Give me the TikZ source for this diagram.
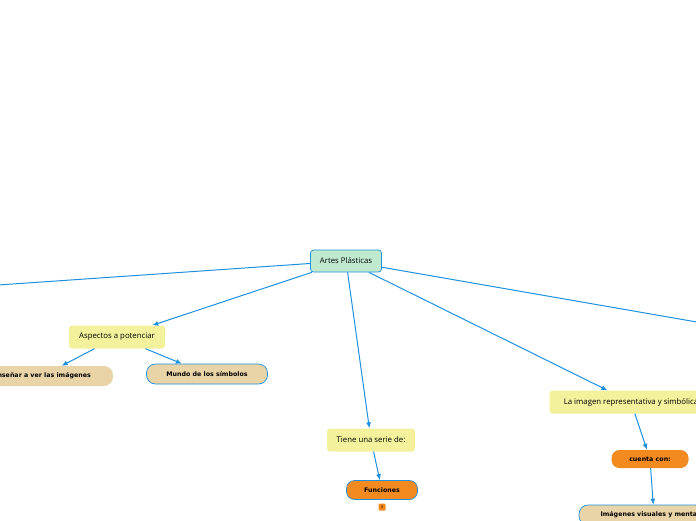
\documentclass[tikz,border=0pt]{standalone}
\usepackage{fontspec}
\setmainfont{Open Sans}
\newfontfamily\heavyfont{DejaVu Sans}
\usetikzlibrary{arrows.meta,positioning}

\definecolor{mapblue}{HTML}{1E90E0}
\definecolor{rootgreen}{HTML}{C0EAD0}
\definecolor{ideayellow}{HTML}{F4F19C}
\definecolor{leaftan}{HTML}{E9D4A7}
\definecolor{keyorange}{HTML}{F28A1F}

\begin{document}
\begin{tikzpicture}[
  x=1pt, y=-1pt,
  font=\fontsize{7.8}{9}\selectfont,
  root/.style={draw=mapblue, fill=rootgreen, rounded corners=3pt, line width=0.7pt, minimum width=71pt, minimum height=22pt, inner sep=2pt},
  idea/.style={fill=ideayellow, rounded corners=3pt, minimum height=23pt, inner sep=2pt},
  leaf/.style={fill=leaftan, rounded corners=9pt, minimum height=20pt, inner sep=2pt, font=\heavyfont\bfseries\fontsize{6.3}{7}\selectfont},
  key/.style={fill=keyorange, rounded corners=8pt, minimum height=19pt, inner sep=2pt, font=\heavyfont\bfseries\fontsize{6.3}{7}\selectfont},
  ring/.style={draw=mapblue, line width=0.7pt},
  arr/.style={-{Latex[length=6pt,width=5pt]}, mapblue, line width=1pt}
]
\useasboundingbox (0,0) rectangle (696,520);
\clip (0,0) rectangle (696,520);

% central topic
\node[root] (artes) at (346,261) {Artes Plásticas};
\coordinate (offleft) at (-60,289);
\coordinate (offright) at (760,333);

% main branches
\node[idea, minimum width=96pt] (aspectos) at (117,337) {Aspectos a potenciar};
\node[idea, minimum width=88pt] (tiene) at (371,440) {Tiene una serie de:};
\node[idea, minimum width=163pt] (imagen) at (631,402) {La imagen representativa y simbólica};

% sub topics
\node[leaf, minimum width=142pt] (ensenar) at (42,376) {Enseñar a ver las imágenes};
\node[leaf, ring, minimum width=121pt] (mundo) at (207,374) {Mundo de los símbolos};
\node[key, ring, minimum width=71pt] (funciones) at (382,490) {Funciones};
\node[fill=keyorange, rounded corners=1pt, minimum size=7pt, inner sep=0pt, font=\fontsize{4}{4}\selectfont] (badge) at (382,507) {4};
\node[key, minimum width=77pt, minimum height=18pt] (cuenta) at (650,459) {cuenta con:};
\node[leaf, ring, minimum width=150pt] (visuales) at (654,515) {Imágenes visuales y mentales};

% connectors
\draw[arr] (artes) -- (offleft);
\draw[arr] (artes) -- (offright);
\draw[arr] (artes) -- (aspectos);
\draw[arr] (artes) -- (tiene);
\draw[arr] (artes) -- (imagen);
\draw[arr] (aspectos) -- (ensenar);
\draw[arr] (aspectos) -- (mundo);
\draw[arr] (tiene) -- (funciones);
\draw[arr] (imagen) -- (cuenta);
\draw[arr] (cuenta) -- (visuales);
\end{tikzpicture}
\end{document}
